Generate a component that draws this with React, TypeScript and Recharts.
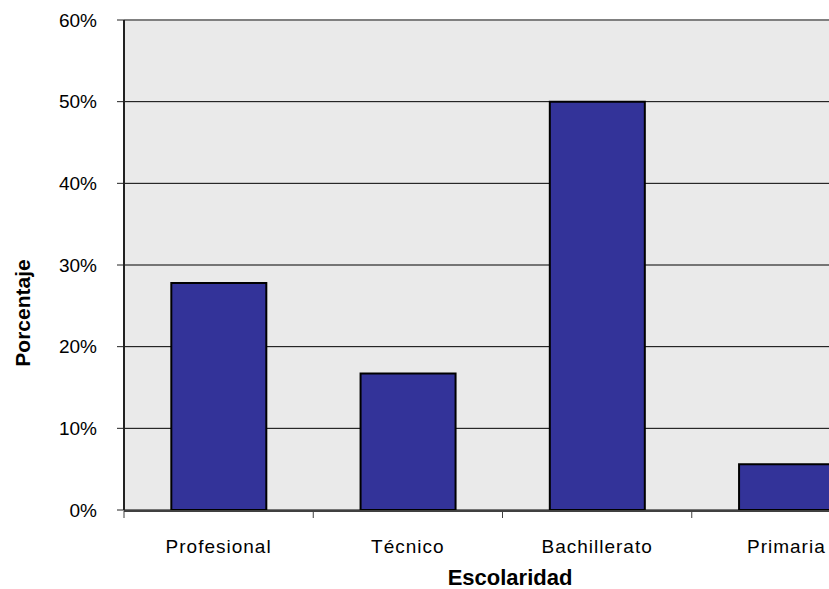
import React from 'react'
import {
  Bar,
  BarChart,
  CartesianGrid,
  ReferenceLine,
  XAxis,
  YAxis,
} from 'recharts'

const categories = ['Profesional', 'Técnico', 'Bachillerato', 'Primaria']
const percentages = [27.8, 16.7, 50, 5.6]
const yTicks = [0, 10, 20, 30, 40, 50, 60]
const edgeTicks = [0, 1, 2, 3, 4]

const FONT = '"Liberation Sans", Arial, sans-serif'

const data = categories.map((name, i) => ({ name, value: percentages[i] }))

export default function App() {
  return (
    <div
      style={{
        position: 'absolute',
        left: 0,
        top: 0,
        width: 829,
        height: 589,
        overflow: 'hidden',
        background: '#fff',
        fontFamily: FONT,
      }}
    >
      <BarChart
        width={890}
        height={589}
        data={data}
        margin={{ top: 20, right: 9, left: 0, bottom: 77 }}
        barCategoryGap="25%"
      >
        <CartesianGrid
          vertical={false}
          stroke="#000"
          strokeWidth={1}
          fill="#eaeaea"
          fillOpacity={1}
        />
        <ReferenceLine y={60} stroke="#808080" strokeWidth={2} />
        <XAxis
          xAxisId="edge"
          type="number"
          dataKey="pos"
          domain={[0, 4]}
          ticks={edgeTicks}
          allowDataOverflow
          height={1}
          tick={() => <g />}
          tickSize={7}
          axisLine={{ stroke: '#404040', strokeWidth: 2 }}
          tickLine={{ stroke: '#404040' }}
        />
        <XAxis
          xAxisId="cat"
          dataKey="name"
          height={1}
          axisLine={false}
          tickLine={false}
          tickMargin={24}
          interval={0}
          tick={{ fontSize: 19, fill: '#000', fontFamily: FONT, letterSpacing: 1 }}
          label={{
            content: () => (
              <text
                x={510}
                y={577}
                textAnchor="middle"
                dominantBaseline="central"
                fontSize={22}
                fontWeight="bold"
                fontFamily={FONT}
                fill="#000"
              >
                Escolaridad
              </text>
            ),
          }}
        />
        <YAxis
          width={124}
          domain={[0, 60]}
          ticks={yTicks}
          interval={0}
          tickFormatter={(v) => `${v}%`}
          tickSize={7}
          tickMargin={20}
          tick={{ fontSize: 19, fill: '#000', fontFamily: FONT }}
          axisLine={{ stroke: '#222', strokeWidth: 2 }}
          tickLine={{ stroke: '#222' }}
          label={{
            content: () => (
              <text
                x={22}
                y={313}
                transform="rotate(-90 22 313)"
                textAnchor="middle"
                dominantBaseline="central"
                fontSize={21}
                fontWeight="bold"
                fontFamily={FONT}
                fill="#000"
              >
                Porcentaje
              </text>
            ),
          }}
        />
        <Bar
          xAxisId="cat"
          dataKey="value"
          fill="#333399"
          stroke="#000"
          strokeWidth={2}
          isAnimationActive={false}
        />
      </BarChart>
    </div>
  )
}
